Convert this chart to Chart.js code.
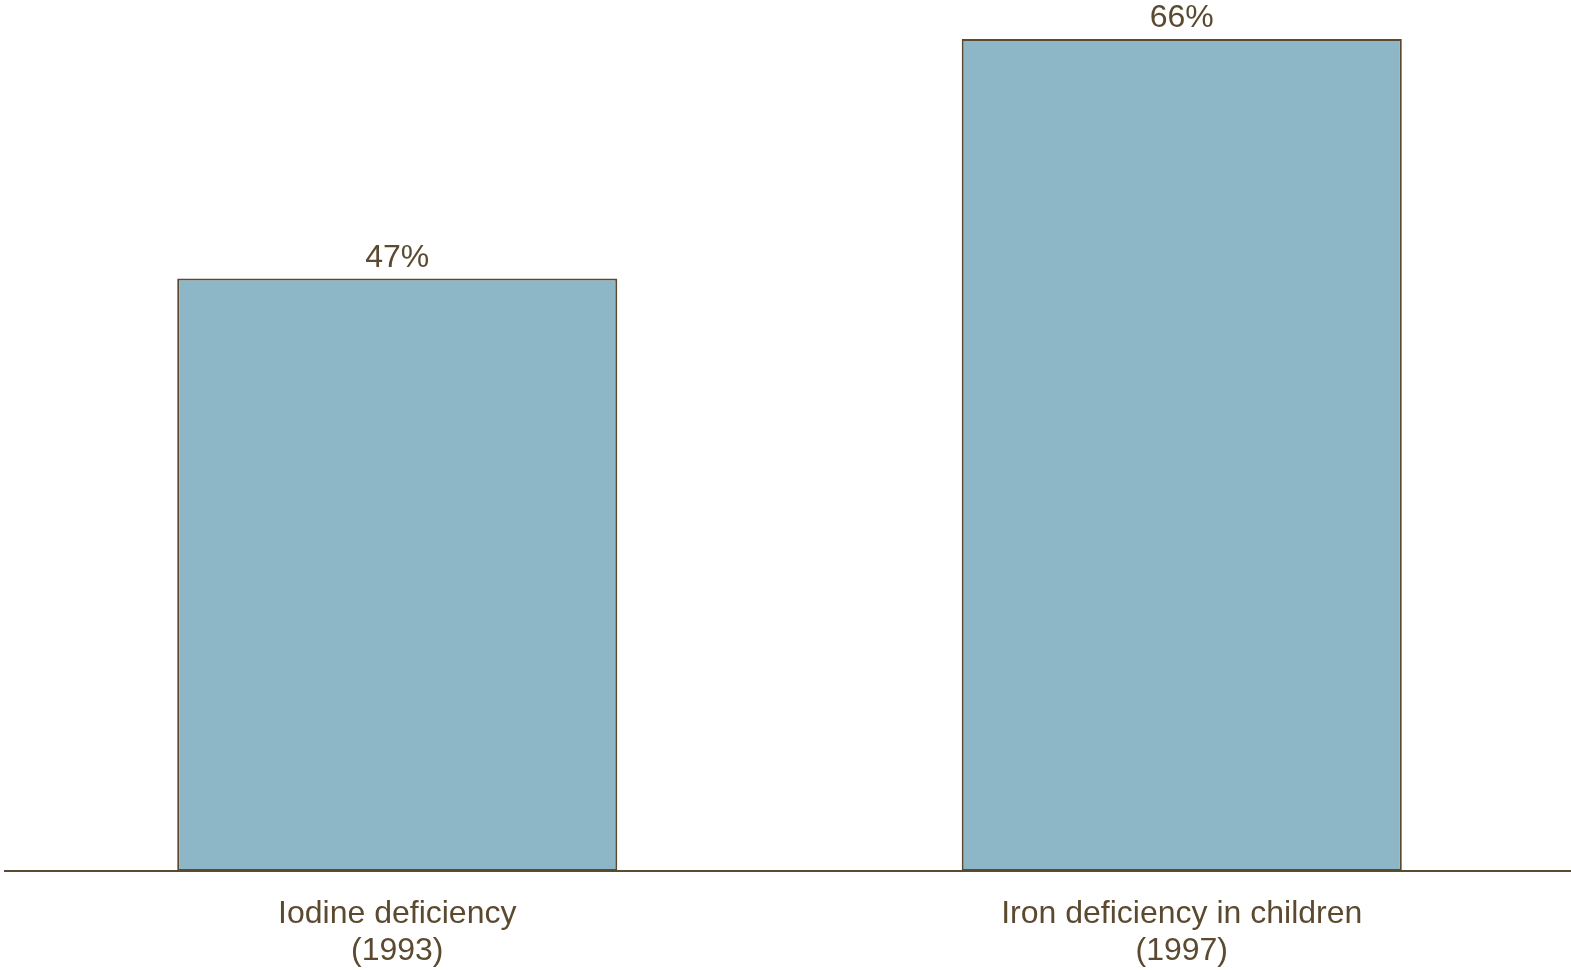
<!DOCTYPE html>
<html lang="en">
<head>
  <meta charset="UTF-8">
  <title>Deficiency prevalence</title>
  <script src="https://cdn.jsdelivr.net/npm/chart.js@4.4.1/dist/chart.umd.min.js"></script>
  <style>
    html, body { margin: 0; padding: 0; background: #fff; overflow: hidden; }
    #wrap { width: 1574px; height: 970px; }
  </style>
</head>
<body>
  <div id="wrap"><canvas id="chart"></canvas></div>
  <script>
    // DATA
    const categories = [["Iodine deficiency", "(1993)"], ["Iron deficiency in children", "(1997)"]];
    const values = [47, 66];
    const valueLabels = ["47%", "66%"];

    const brown = "#5b4a30";

    // draws the % text above each bar
    const valueLabelPlugin = {
      id: "valueLabels",
      afterDatasetsDraw(chart) {
        const ctx = chart.ctx;
        const meta = chart.getDatasetMeta(0);
        ctx.save();
        ctx.font = "32px 'Liberation Sans', Arial, sans-serif";
        ctx.fillStyle = brown;
        ctx.textAlign = "center";
        ctx.textBaseline = "alphabetic";
        meta.data.forEach((bar, i) => {
          ctx.fillText(valueLabels[i], bar.x, bar.y - 12);
        });
        ctx.restore();
      }
    };

    new Chart("chart", {
      type: "bar",
      data: {
        labels: categories,
        datasets: [{
          data: values,
          backgroundColor: "#8db6c7",
          borderColor: brown,
          borderWidth: 2,
          borderSkipped: false,
          barPercentage: 0.561,
          categoryPercentage: 1
        }]
      },
      options: {
        responsive: true,
        maintainAspectRatio: false,
        animation: false,
        layout: { padding: { left: 5, right: 0, top: 0, bottom: 0 } },
        plugins: { legend: { display: false }, tooltip: { enabled: false } },
        scales: {
          y: { display: false, min: 0, max: 69.1 },
          x: {
            grid: { display: false },
            border: { display: true, color: brown, width: 2 },
            ticks: {
              color: brown,
              padding: 17,
              font: { family: "'Liberation Sans', Arial, sans-serif", size: 32, lineHeight: 1.15 }
            },
            afterFit(scale) { scale.height = 99; }
          }
        }
      },
      plugins: [valueLabelPlugin]
    });
  </script>
</body>
</html>
